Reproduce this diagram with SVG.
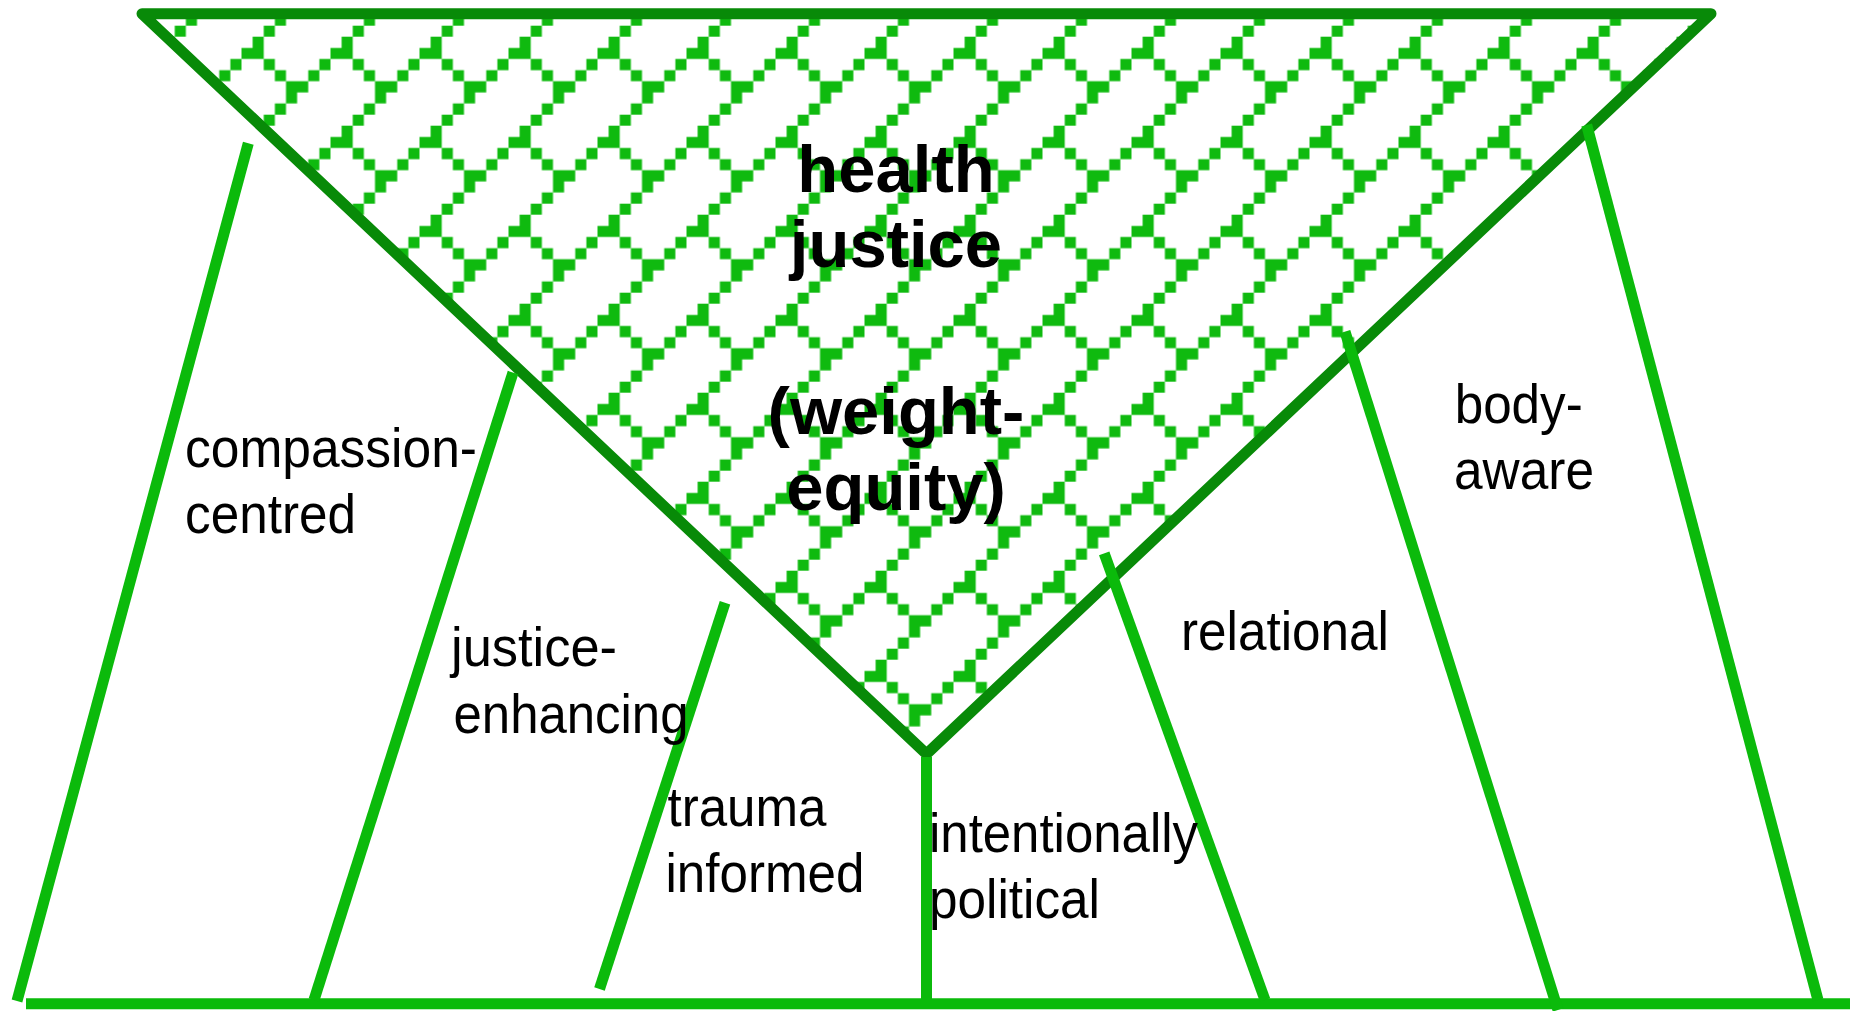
<svg xmlns="http://www.w3.org/2000/svg" width="1850" height="1011" viewBox="0 0 1850 1011">
<style>
.edge{fill:none;stroke:#088A08;stroke-width:11;stroke-linejoin:round}
.ln{fill:none;stroke:#0BBA0B;stroke-width:11;stroke-linecap:butt}
.lbl{font-family:"Liberation Sans",Arial,sans-serif;font-size:55px;fill:#000}
.ttl{font-family:"Liberation Sans",Arial,sans-serif;font-size:67px;font-weight:bold;fill:#000;text-anchor:middle}
</style>
<defs>
<pattern id="trellis" patternUnits="userSpaceOnUse" x="63.5" y="36.7" width="89" height="89">
<path fill="#0FBA0F" d="M11.125 0h11.125v11.125h-11.125zM0 11.125h22.25v11.125h-22.25zM22.25 22.25h11.125v11.125h-11.125zM77.875 22.25h11.125v11.125h-11.125zM33.375 33.375h11.125v11.125h-11.125zM66.75 33.375h11.125v11.125h-11.125zM44.5 44.5h22.25v11.125h-22.25zM44.5 55.625h11.125v11.125h-11.125zM33.375 66.75h11.125v11.125h-11.125zM22.25 77.875h11.125v11.125h-11.125z"/>
</pattern>
</defs>
<rect width="1850" height="1011" fill="#fff"/>
<g id="triangle">
<path d="M142 13.7H1711L926.5 754Z" fill="url(#trellis)"/>
<path class="edge" d="M142 13.7H1711L926.5 754Z"/>
</g>
<g id="connectors">
<line class="ln" x1="26" y1="1003.7" x2="1850" y2="1003.7"/>
<line class="ln" x1="248.3" y1="143.3" x2="17" y2="1001"/>
<line class="ln" x1="513" y1="372.5" x2="314" y2="1000"/>
<line class="ln" x1="725" y1="602.7" x2="599.5" y2="989"/>
<line class="ln" x1="926.5" y1="757" x2="926.5" y2="1003"/>
<line class="ln" x1="1104.2" y1="553.3" x2="1265" y2="1000"/>
<line class="ln" x1="1345" y1="331.7" x2="1558" y2="1010"/>
<line class="ln" x1="1586.7" y1="125" x2="1818" y2="1000"/>
</g>
<g id="title">
<text class="ttl" x="896" y="192">health</text>
<text class="ttl" x="896" y="267">justice</text>
<text class="ttl" x="896" y="434">(weight-</text>
<text class="ttl" x="896" y="510">equity)</text>
</g>
<g id="compassion-centred">
<text class="lbl" x="185" y="466.7" textLength="292" lengthAdjust="spacingAndGlyphs">compassion-</text>
<text class="lbl" x="185" y="532.7" textLength="171" lengthAdjust="spacingAndGlyphs">centred</text>
</g>
<g id="justice-enhancing">
<text class="lbl" x="451" y="666" textLength="166" lengthAdjust="spacingAndGlyphs">justice-</text>
<text class="lbl" x="453.5" y="732.7" textLength="235" lengthAdjust="spacingAndGlyphs">enhancing</text>
</g>
<g id="trauma-informed">
<text class="lbl" x="667.5" y="826" textLength="159" lengthAdjust="spacingAndGlyphs">trauma</text>
<text class="lbl" x="665.5" y="892" textLength="199" lengthAdjust="spacingAndGlyphs">informed</text>
</g>
<g id="intentionally-political">
<text class="lbl" x="929" y="851.7" textLength="269" lengthAdjust="spacingAndGlyphs">intentionally</text>
<text class="lbl" x="929" y="917.7" textLength="171" lengthAdjust="spacingAndGlyphs">political</text>
</g>
<g id="relational">
<text class="lbl" x="1181" y="650" textLength="208" lengthAdjust="spacingAndGlyphs">relational</text>
</g>
<g id="body-aware">
<text class="lbl" x="1454.7" y="422.7" textLength="128" lengthAdjust="spacingAndGlyphs">body-</text>
<text class="lbl" x="1454" y="489.3" textLength="140" lengthAdjust="spacingAndGlyphs">aware</text>
</g>
</svg>
